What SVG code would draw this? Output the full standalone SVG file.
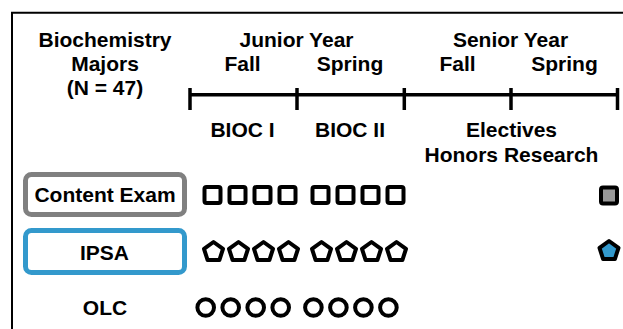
<svg xmlns="http://www.w3.org/2000/svg" xmlns:xlink="http://www.w3.org/1999/xlink" width="623" height="329" viewBox="0 0 623 329">
<style>
text{font-family:"Liberation Sans",Arial,Helvetica,sans-serif;font-weight:bold;font-size:21px;fill:#000;text-anchor:middle}
.sym{fill:#fff;stroke:#000;stroke-width:4;stroke-linejoin:round}
.tl{stroke:#000;stroke-width:3.5;fill:none}
</style>
<defs>
<rect id="sq" x="-8" y="-8" width="16" height="16" rx="2" class="sym"/>
<polygon id="pent" points="0,-10 9.51,-3.09 5.88,8.09 -5.88,8.09 -9.51,-3.09" class="sym"/>
<circle id="circ" r="8.3" class="sym"/>
</defs>
<rect width="623" height="329" fill="#fff"/>
<path d="M12,329 V12.7 H623" fill="none" stroke="#000" stroke-width="2"/>
<g id="header">
<text x="105" y="47">Biochemistry</text>
<text x="105" y="71">Majors</text>
<text x="105" y="95">(N = 47)</text>
<text x="296.5" y="47">Junior Year</text>
<text x="242.5" y="71">Fall</text>
<text x="350" y="71">Spring</text>
<text x="510.5" y="47">Senior Year</text>
<text x="457.5" y="71">Fall</text>
<text x="564.5" y="71">Spring</text>
<text x="242.5" y="137">BIOC I</text>
<text x="350" y="137">BIOC II</text>
<text x="511.5" y="137">Electives</text>
<text x="511.5" y="162">Honors Research</text>
</g>
<g id="timeline">
<line x1="189" y1="94.7" x2="618" y2="94.7" class="tl"/>
<line x1="190" y1="88" x2="190" y2="110" class="tl"/>
<line x1="297" y1="88" x2="297" y2="110" class="tl"/>
<line x1="404.3" y1="88" x2="404.3" y2="110" class="tl"/>
<line x1="511" y1="88" x2="511" y2="110" class="tl"/>
<line x1="617.5" y1="88" x2="617.5" y2="110" class="tl"/>
</g>
<g id="content-exam">
<rect x="25.5" y="174.5" width="159" height="40" rx="6" fill="#fff" stroke="#808080" stroke-width="5"/>
<text x="105" y="202">Content Exam</text>
</g>
<g id="ipsa">
<rect x="25.5" y="230.5" width="159" height="42" rx="6" fill="#fff" stroke="#3399cc" stroke-width="5"/>
<text x="104.5" y="260">IPSA</text>
</g>
<g id="olc">
<text x="105" y="315">OLC</text>
</g>
<g id="squares">
<use xlink:href="#sq" x="212.5" y="195"/>
<use xlink:href="#sq" x="237.5" y="195"/>
<use xlink:href="#sq" x="262.5" y="195"/>
<use xlink:href="#sq" x="287.5" y="195"/>
<use xlink:href="#sq" x="320.5" y="195"/>
<use xlink:href="#sq" x="345.5" y="195"/>
<use xlink:href="#sq" x="370.5" y="195"/>
<use xlink:href="#sq" x="395.5" y="195"/>
<rect x="601" y="187.5" width="16" height="16" rx="2" fill="#999" stroke="#000" stroke-width="4" stroke-linejoin="round"/>
</g>
<g id="pentagons">
<use xlink:href="#pent" x="213.5" y="252"/>
<use xlink:href="#pent" x="238.5" y="252"/>
<use xlink:href="#pent" x="263.5" y="252"/>
<use xlink:href="#pent" x="288.5" y="252"/>
<use xlink:href="#pent" x="321.5" y="252"/>
<use xlink:href="#pent" x="346.5" y="252"/>
<use xlink:href="#pent" x="371.5" y="252"/>
<use xlink:href="#pent" x="396.5" y="252"/>
<polygon points="0,-10 9.51,-3.09 5.88,8.09 -5.88,8.09 -9.51,-3.09" transform="translate(609,251)" fill="#3399cc" stroke="#000" stroke-width="4" stroke-linejoin="round"/>
</g>
<g id="circles">
<use xlink:href="#circ" x="205.7" y="307.5"/>
<use xlink:href="#circ" x="230.7" y="307.5"/>
<use xlink:href="#circ" x="255.7" y="307.5"/>
<use xlink:href="#circ" x="280.7" y="307.5"/>
<use xlink:href="#circ" x="313.4" y="307.5"/>
<use xlink:href="#circ" x="338.4" y="307.5"/>
<use xlink:href="#circ" x="363.4" y="307.5"/>
<use xlink:href="#circ" x="388.4" y="307.5"/>
</g>
</svg>
